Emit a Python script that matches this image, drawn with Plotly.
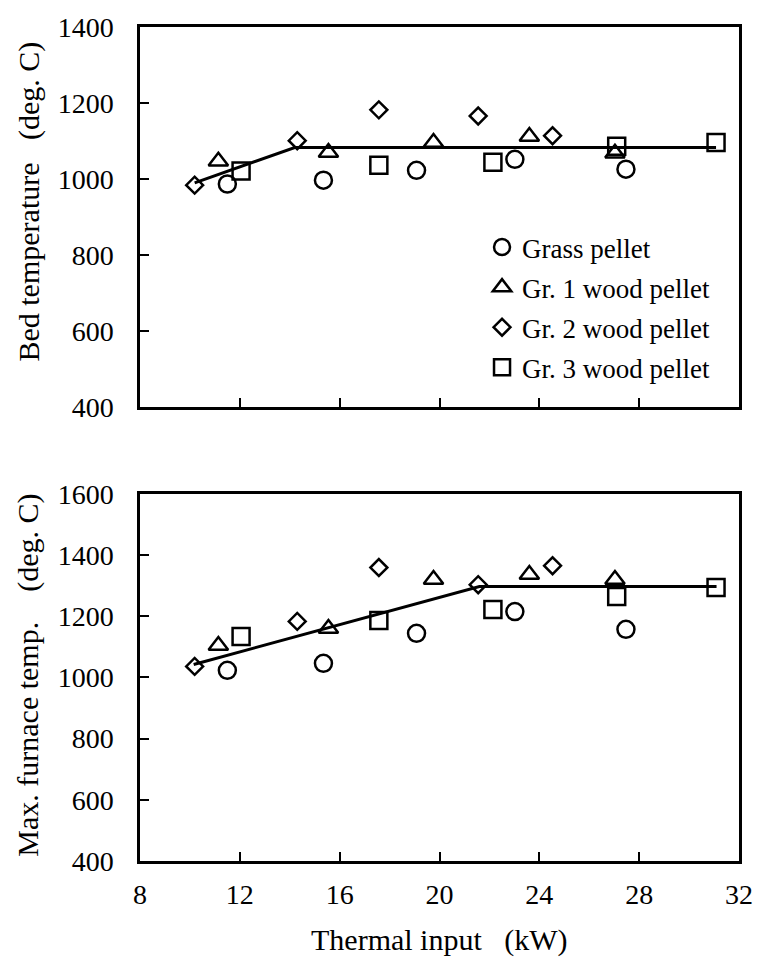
import plotly.graph_objects as go
from plotly.subplots import make_subplots

# ---- data (thermal input kW, temperature deg C) ----
series_names = ["Grass pellet", "Gr. 1 wood pellet", "Gr. 2 wood pellet", "Gr. 3 wood pellet"]
series_symbols = ["circle-open", "triangle-up-open", "diamond-open", "square-open"]
series_sizes = [17, 17, 13, 17]

grass_x = [11.5, 15.35, 19.08, 23.02, 27.47]
grass_bed = [987, 997, 1023, 1052, 1026]
grass_max = [1023, 1046, 1144, 1215, 1157]

gr1_x = [11.14, 15.55, 19.76, 23.6, 27.03]
gr1_bed = [1047, 1070, 1096, 1112, 1068]
gr1_max = [1104, 1160, 1320, 1336, 1320]

gr2_x = [10.19, 14.3, 17.57, 21.55, 24.53]
gr2_bed = [984, 1101, 1182, 1166, 1114]
gr2_max = [1036, 1183, 1359, 1303, 1365]

gr3_x = [12.05, 17.57, 22.14, 27.1, 31.08]
gr3_bed = [1021, 1036, 1044, 1086, 1096]
gr3_max = [1134, 1186, 1222, 1264, 1294]

bed_fit_x = [10.19, 14.2, 31.08]
bed_fit_y = [990, 1083, 1083]
max_fit_x = [10.15, 21.6, 31.1]
max_fit_y = [1042, 1297, 1297]

x_ticks = [8, 12, 16, 20, 24, 28, 32]
bed_ticks = [400, 600, 800, 1000, 1200, 1400]
max_ticks = [400, 600, 800, 1000, 1200, 1400, 1600]

FONT = "Liberation Serif"
FS_TICK = 28
FS_LEG = 27
FS_TITLE = 30

xs = [grass_x, gr1_x, gr2_x, gr3_x]
beds = [grass_bed, gr1_bed, gr2_bed, gr3_bed]
maxs = [grass_max, gr1_max, gr2_max, gr3_max]

fig = make_subplots(rows=2, cols=1)

# fit lines
fig.add_trace(go.Scatter(x=bed_fit_x, y=bed_fit_y, mode="lines",
                         line=dict(color="black", width=3), showlegend=False,
                         hoverinfo="skip"), row=1, col=1)
fig.add_trace(go.Scatter(x=max_fit_x, y=max_fit_y, mode="lines",
                         line=dict(color="black", width=3), showlegend=False,
                         hoverinfo="skip"), row=2, col=1)

for i, name in enumerate(series_names):
    mk = dict(symbol=series_symbols[i], size=series_sizes[i], color="black",
              line=dict(width=2.5, color="black"))
    fig.add_trace(go.Scatter(x=xs[i], y=beds[i], mode="markers", name=name,
                             marker=mk, legendgroup=name, showlegend=True),
                  row=1, col=1)
    fig.add_trace(go.Scatter(x=xs[i], y=maxs[i], mode="markers", name=name,
                             marker=mk, legendgroup=name, showlegend=False),
                  row=2, col=1)

axis_common = dict(showline=True, linecolor="black", linewidth=2.5, mirror=True,
                   ticks="inside", ticklen=9, tickwidth=2, tickcolor="black",
                   showgrid=False, zeroline=False,
                   tickfont=dict(family=FONT, size=FS_TICK, color="black"))

fig.update_xaxes(**axis_common, range=[8, 32], tickvals=x_ticks)
fig.update_xaxes(showticklabels=False, domain=[0, 1], row=1, col=1)
fig.update_xaxes(showticklabels=True, ticklabelstandoff=7, row=2, col=1)
fig.update_yaxes(**axis_common, ticklabelstandoff=18)
fig.update_yaxes(range=[400, 1400], tickvals=bed_ticks, domain=[0.5442, 1.0], row=1, col=1)
fig.update_yaxes(range=[400, 1600], tickvals=max_ticks, domain=[0.0, 0.4403], row=2, col=1)

title_font = dict(family=FONT, size=FS_TITLE, color="black")
fig.update_layout(
    width=765, height=978,
    margin=dict(l=140, r=21, t=22, b=117),
    paper_bgcolor="white", plot_bgcolor="white",
    font=dict(family=FONT, size=FS_LEG, color="black"),
    showlegend=True,
    legend=dict(x=0.571, y=0.765, xanchor="left", yanchor="top",
                bgcolor="rgba(0,0,0,0)", borderwidth=0,
                font=dict(family=FONT, size=FS_LEG, color="black"),
                tracegroupgap=2, itemwidth=30),
    annotations=[
        dict(text="Bed temperature   (deg. C)", textangle=-90, showarrow=False,
             xref="paper", yref="paper", x=-0.186, y=1 - (198 - 22) / 839,
             xanchor="center", yanchor="middle", font=title_font),
        dict(text="Max. furnace temp.    (deg. C)", textangle=-90, showarrow=False,
             xref="paper", yref="paper", x=-0.186, y=1 - (674 - 22) / 839,
             xanchor="center", yanchor="middle", font=title_font),
        dict(text="Thermal input   (kW)", showarrow=False,
             xref="paper", yref="paper", x=0.5, y=1 - (940 - 22) / 839,
             xanchor="center", yanchor="middle", font=title_font),
    ],
)

fig.write_html("out.html")
